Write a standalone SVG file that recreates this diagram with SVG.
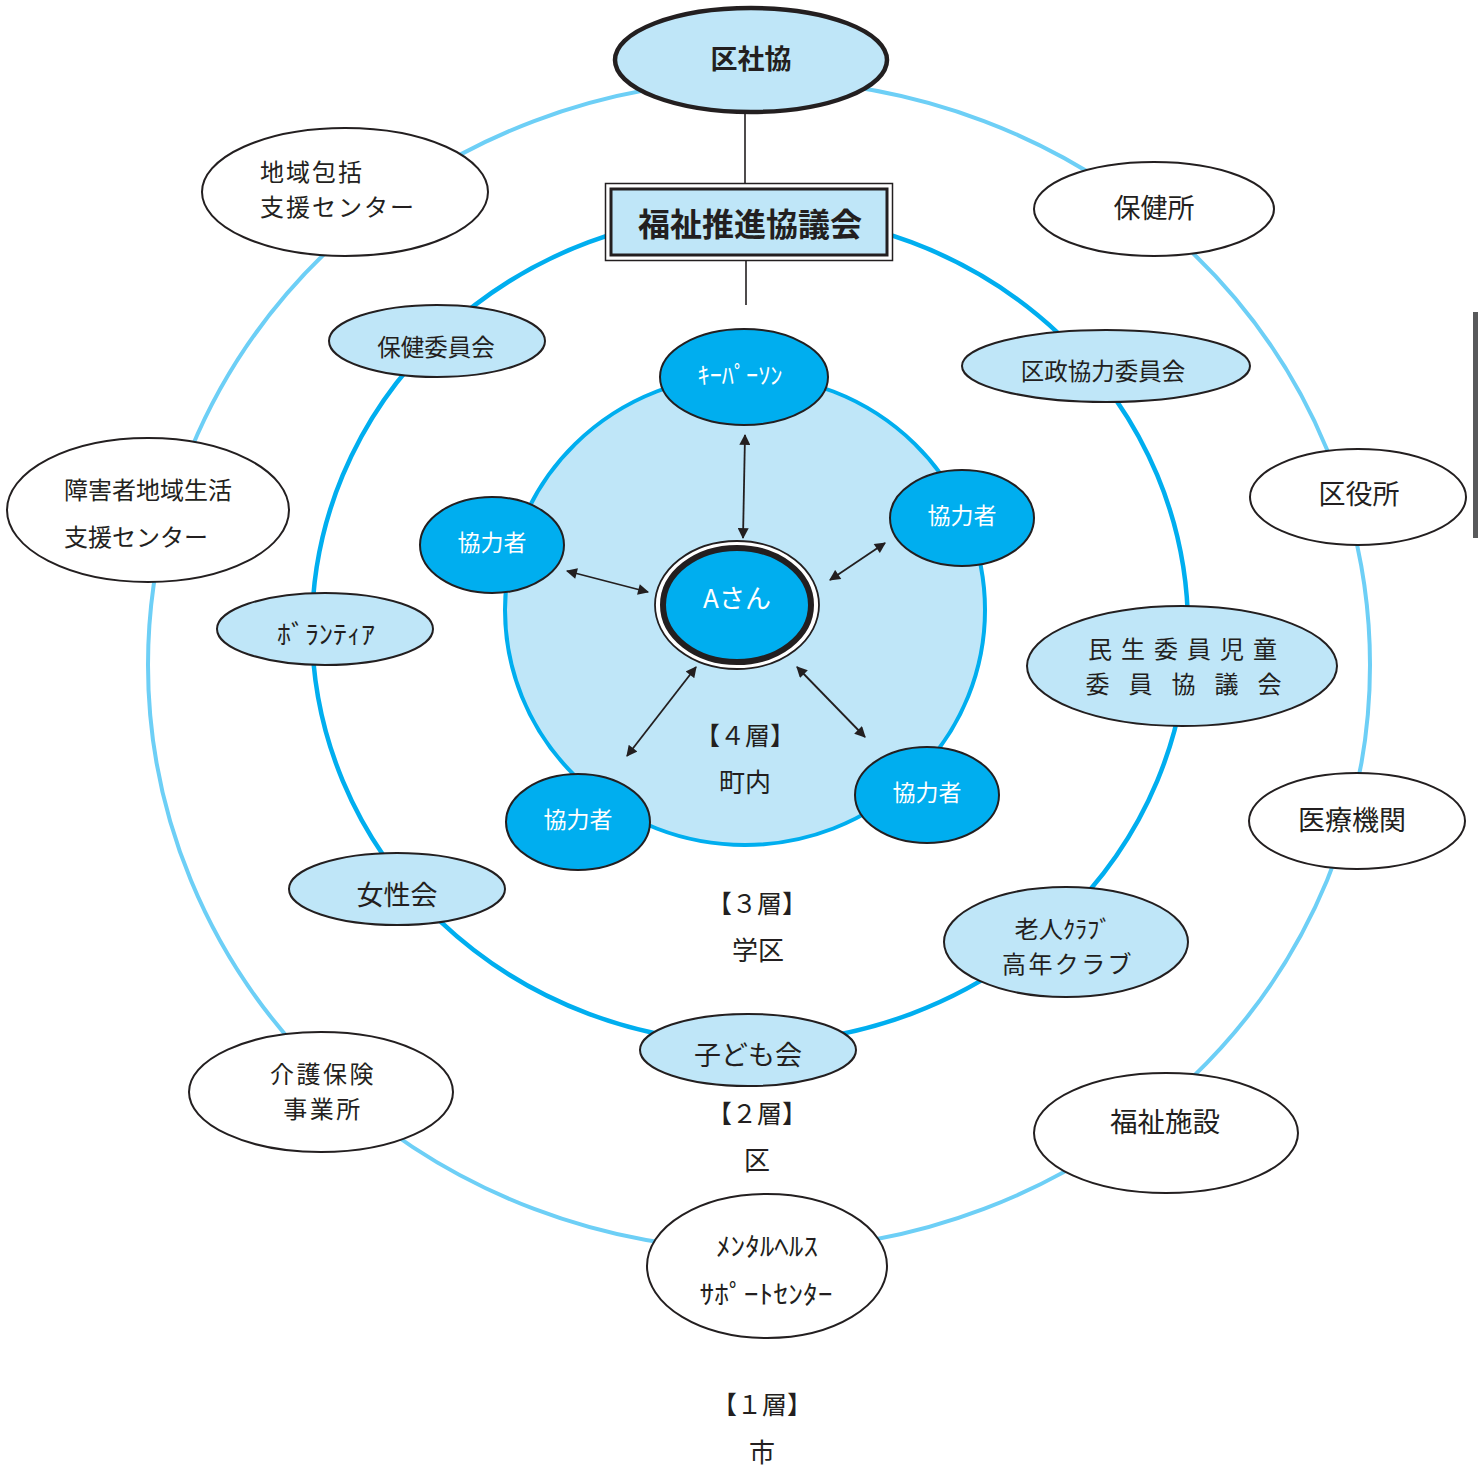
<svg xmlns="http://www.w3.org/2000/svg" width="1478" height="1470" viewBox="0 0 1478 1470">
<defs>
<style>
.t{font-family:"Noto Sans CJK JP","Noto Sans",sans-serif;fill:#231f20;text-anchor:middle}
.w{fill:#ffffff}
.b{font-weight:bold}
.wh{fill:#ffffff;stroke:#231f20;stroke-width:2}
.lb{fill:#bfe6f8;stroke:#231f20;stroke-width:2}
.cy{fill:#00aeef;stroke:#231f20;stroke-width:2}
.arr{stroke:#231f20;stroke-width:1.8;fill:none;marker-start:url(#ah);marker-end:url(#ah)}
</style>
<marker id="ah" viewBox="0 0 10 10" refX="9" refY="5" markerWidth="12" markerHeight="11" markerUnits="userSpaceOnUse" orient="auto-start-reverse">
<path d="M0,0 L10,5 L0,10 z" fill="#231f20"/>
</marker>
</defs>
<rect width="1478" height="1470" fill="#ffffff"/>
<rect x="1473" y="312" width="5" height="226" fill="#58595b"/>
<g id="rings">
<ellipse cx="759" cy="665" rx="611" ry="585" fill="none" stroke="#6dcff6" stroke-width="4"/>
<ellipse cx="750" cy="628" rx="438" ry="415" fill="none" stroke="#00aeef" stroke-width="4.5"/>
<ellipse cx="745" cy="610" rx="240" ry="235" fill="#bfe6f8" stroke="#00aeef" stroke-width="4"/>
</g>
<g id="layer-labels">
<text class="t" x="745" y="745" font-size="25">【４層】</text>
<text class="t" x="745" y="792" font-size="26">町内</text>
<text class="t" x="757" y="913" font-size="25">【３層】</text>
<text class="t" x="758" y="960" font-size="26">学区</text>
<text class="t" x="757" y="1123" font-size="25">【２層】</text>
<text class="t" x="757" y="1170" font-size="26">区</text>
<text class="t" x="762" y="1414" font-size="25">【１層】</text>
<text class="t" x="762" y="1462" font-size="26">市</text>
</g>
<g id="connectors">
<line x1="745" y1="113" x2="745" y2="184" stroke="#231f20" stroke-width="1.6"/>
<line x1="746" y1="260" x2="746" y2="305" stroke="#231f20" stroke-width="1.6"/>
<line class="arr" x1="745" y1="435" x2="743" y2="538"/>
<line class="arr" x1="567" y1="571" x2="648" y2="592"/>
<line class="arr" x1="885" y1="543" x2="830" y2="580"/>
<line class="arr" x1="627" y1="756" x2="696" y2="667"/>
<line class="arr" x1="865" y1="737" x2="797" y2="667"/>
</g>
<g id="kushakyo">
<ellipse cx="751" cy="60" rx="136" ry="52" fill="#bfe6f8" stroke="#231f20" stroke-width="4.5"/>
<text class="t b" x="751" y="69" font-size="27">区社協</text>
</g>
<g id="fukushi-suishin">
<rect x="605.5" y="183.5" width="287" height="77" fill="#ffffff" stroke="#231f20" stroke-width="1.5"/>
<rect x="611" y="189" width="276" height="66" fill="#bfe6f8" stroke="#231f20" stroke-width="3"/>
<text class="t b" x="750" y="236" font-size="32">福祉推進協議会</text>
</g>
<g id="chiiki-houkatsu">
<ellipse class="wh" cx="345" cy="192" rx="143" ry="64"/>
<text class="t" x="260" y="181" font-size="24" letter-spacing="2" style="text-anchor:start">地域包括</text>
<text class="t" x="260" y="216" font-size="24" letter-spacing="2" style="text-anchor:start">支援センター</text>
</g>
<g id="hokenjo">
<ellipse class="wh" cx="1154" cy="209" rx="120" ry="47"/>
<text class="t" x="1154" y="218" font-size="27">保健所</text>
</g>
<g id="hoken-iinkai">
<ellipse class="lb" cx="437" cy="341" rx="108" ry="36"/>
<text class="t" x="436" y="356" font-size="23.5">保健委員会</text>
</g>
<g id="keyperson">
<ellipse class="cy" cx="744" cy="377" rx="84" ry="48"/>
<text class="t w" x="740" y="384" font-size="24" textLength="85" lengthAdjust="spacingAndGlyphs">ｷｰﾊﾟｰｿﾝ</text>
</g>
<g id="kusei-kyoryoku">
<ellipse class="lb" cx="1106" cy="366" rx="144" ry="36"/>
<text class="t" x="1103" y="380" font-size="23.5">区政協力委員会</text>
</g>
<g id="kuyakusho">
<ellipse class="wh" cx="1358" cy="497" rx="108" ry="48"/>
<text class="t" x="1359" y="504" font-size="27">区役所</text>
</g>
<g id="shogaisha">
<ellipse class="wh" cx="148" cy="510" rx="141" ry="72"/>
<text class="t" x="64" y="499" font-size="24" style="text-anchor:start">障害者地域生活</text>
<text class="t" x="64" y="546" font-size="24" style="text-anchor:start">支援センター</text>
</g>
<g id="kyoryokusha-left">
<ellipse class="cy" cx="492" cy="545" rx="72" ry="48"/>
<text class="t w" x="492" y="551" font-size="23">協力者</text>
</g>
<g id="kyoryokusha-right">
<ellipse class="cy" cx="962" cy="518" rx="72" ry="48"/>
<text class="t w" x="962" y="524" font-size="23">協力者</text>
</g>
<g id="a-san">
<ellipse cx="737" cy="605" rx="82" ry="64" fill="#ffffff" stroke="#231f20" stroke-width="1.8"/>
<ellipse cx="737" cy="605" rx="74" ry="57" fill="#00aeef" stroke="#231f20" stroke-width="6"/>
<text class="t w" x="737" y="608" font-size="26">Aさん</text>
</g>
<g id="volunteer">
<ellipse class="lb" cx="325" cy="629" rx="108" ry="36"/>
<text class="t" x="326" y="644" font-size="26" textLength="98" lengthAdjust="spacingAndGlyphs">ﾎﾞﾗﾝﾃｨｱ</text>
</g>
<g id="minsei">
<ellipse class="lb" cx="1182" cy="666" rx="155" ry="60"/>
<text class="t" x="1187" y="658" font-size="24" letter-spacing="9">民生委員児童</text>
<text class="t" x="1193" y="693" font-size="24" letter-spacing="19">委員協議会</text>
</g>
<g id="kyoryokusha-bottom-left">
<ellipse class="cy" cx="578" cy="822" rx="72" ry="48"/>
<text class="t w" x="578" y="828" font-size="23">協力者</text>
</g>
<g id="kyoryokusha-bottom-right">
<ellipse class="cy" cx="927" cy="795" rx="72" ry="48"/>
<text class="t w" x="927" y="801" font-size="23">協力者</text>
</g>
<g id="iryo-kikan">
<ellipse class="wh" cx="1357" cy="821" rx="108" ry="48"/>
<text class="t" x="1352" y="830" font-size="27">医療機関</text>
</g>
<g id="joseikai">
<ellipse class="lb" cx="397" cy="889" rx="108" ry="36"/>
<text class="t" x="397" y="905" font-size="27">女性会</text>
</g>
<g id="rojin-club">
<ellipse class="lb" cx="1066" cy="942" rx="122" ry="55"/>
<text class="t" x="1063" y="938" font-size="24" textLength="97" lengthAdjust="spacingAndGlyphs">老人ｸﾗﾌﾞ</text>
<text class="t" x="1068" y="973" font-size="24" letter-spacing="2.4">高年クラブ</text>
</g>
<g id="kodomokai">
<ellipse class="lb" cx="748" cy="1050" rx="108" ry="36"/>
<text class="t" x="748" y="1065" font-size="27">子ども会</text>
</g>
<g id="kaigo-hoken">
<ellipse class="wh" cx="321" cy="1092" rx="132" ry="60"/>
<text class="t" x="323" y="1083" font-size="24" letter-spacing="2.5">介護保険</text>
<text class="t" x="323" y="1118" font-size="24" letter-spacing="2.5">事業所</text>
</g>
<g id="fukushi-shisetsu">
<ellipse class="wh" cx="1166" cy="1133" rx="132" ry="60"/>
<text class="t" x="1165" y="1132" font-size="27.5">福祉施設</text>
</g>
<g id="mental-health">
<ellipse class="wh" cx="767" cy="1266" rx="120" ry="72"/>
<text class="t" x="767" y="1256" font-size="26" textLength="102" lengthAdjust="spacingAndGlyphs">ﾒﾝﾀﾙﾍﾙｽ</text>
<text class="t" x="766" y="1304" font-size="26" textLength="133" lengthAdjust="spacingAndGlyphs">ｻﾎﾟｰﾄｾﾝﾀｰ</text>
</g>
</svg>
